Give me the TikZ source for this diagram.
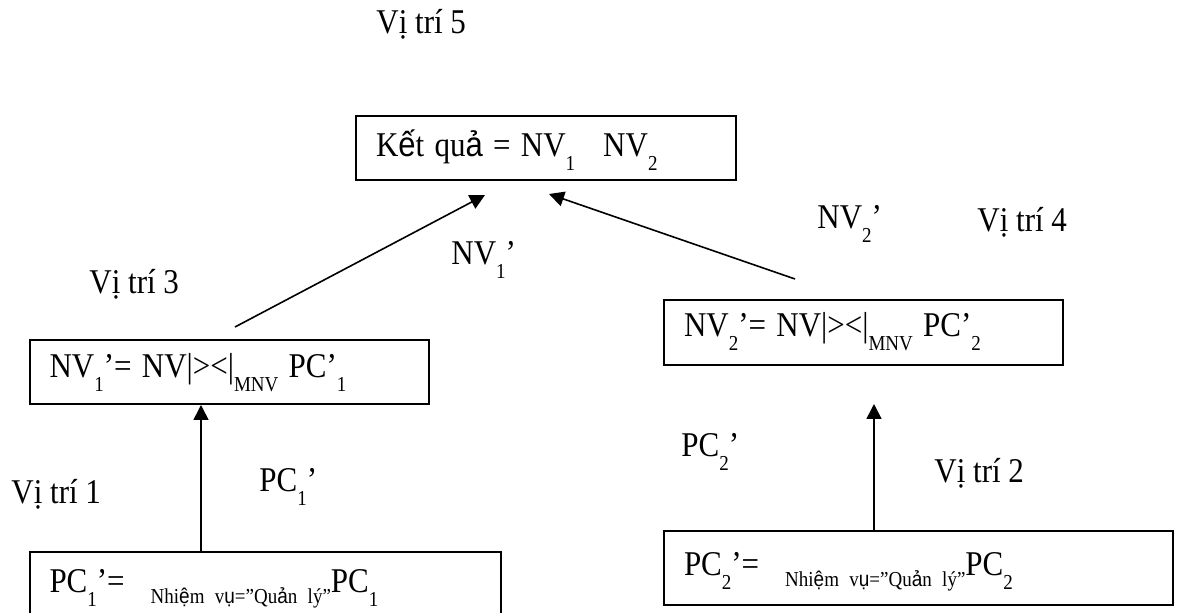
\documentclass[tikz,border=0pt]{standalone}
\usepackage{fontspec}
\setmainfont{Liberation Serif}
\newfontfamily\vnsans{Liberation Sans}
\usepackage{tikz}
\usetikzlibrary{
  arrows.meta,
  positioning
}
\newcommand{\lowidx}[1]{\raisebox{-6pt}{\fontsize{9.5}{10}\selectfont #1}}
\newcommand{\lowcond}[1]{\raisebox{-4.5pt}{\fontsize{9.5}{10}\selectfont #1}}
\newcommand{\vs}[1]{{\vnsans #1}}
\newcommand{\tall}[1]{\scalebox{1}[1.12]{#1}}
\tikzset{
    relbox/.style={draw, line width=1pt, anchor=north west, inner xsep=10pt, inner ysep=0pt, align=left, font=\fontsize{15.5}{18}\selectfont},
    lbl/.style={anchor=base west, inner sep=0pt, font=\fontsize{15.5}{18}\selectfont},
    arr/.style={line width=0.8pt, -{Triangle[length=7.5pt, width=7.5pt]}}
}

\begin{document}
\begin{tikzpicture}[x=0.5pt, y=-0.5pt]
    \useasboundingbox (0,0) rectangle (1178,613);
    \clip (0,0) rectangle (1178,613);
    \node[relbox, text width=170pt, text height=20.5pt, text depth=11.5pt] (kq) at (355,115) {\tall{K\vs{ế}t qu\vs{ả} = NV\lowidx{1}\hspace{14pt}NV\lowidx{2}}};
    \node[relbox, text width=179.5pt, text height=19pt, text depth=13pt] (nv1) at (28.5,339) {\tall{NV\lowidx{1}’= NV|><|\lowidx{MNV} PC’\lowidx{1}}};
    \node[relbox, text width=179.5pt, text height=18.5pt, text depth=14pt] (nv2) at (663,299) {\tall{NV\lowidx{2}’= NV|><|\lowidx{MNV} PC’\lowidx{2}}};
    \node[relbox, text width=215.75pt, text height=20.5pt, text depth=20pt] (pc1) at (28.5,551) {\tall{PC\lowidx{1}’=\hspace{13pt}\lowcond{Nhi\vs{ệ}m v\vs{ụ}=”Qu\vs{ả}n lý”}PC\lowidx{1}}};
    \node[relbox, text width=234.5pt, text height=22.5pt, text depth=14.5pt] (pc2) at (663,530) {\tall{PC\lowidx{2}’=\hspace{13pt}\lowcond{Nhi\vs{ệ}m v\vs{ụ}=”Qu\vs{ả}n lý”}PC\lowidx{2}}};

    \node[lbl] (vt5) at (376,34) {\tall{Vị trí 5}};
    \node[lbl] (vt4) at (977,232) {\tall{Vị trí 4}};
    \node[lbl] (vt3) at (89,294) {\tall{Vị trí 3}};
    \node[lbl] (vt2) at (934,483) {\tall{Vị trí 2}};
    \node[lbl] (vt1) at (11,504) {\tall{Vị trí 1}};
    \node[lbl] (lnv1) at (451,265) {\tall{NV\lowidx{1}’}};
    \node[lbl] (lnv2) at (817,229) {\tall{NV\lowidx{2}’}};
    \node[lbl] (lpc1) at (259,492) {\tall{PC\lowidx{1}’}};
    \node[lbl] (lpc2) at (681,457) {\tall{PC\lowidx{2}’}};

    \coordinate (s3) at (235,327);
    \coordinate (e3) at (485,195);
    \coordinate (s4) at (795,279);
    \coordinate (e4) at (549,194);
    \coordinate (c1) at (201,0);
    \coordinate (c2) at (874,404);

    \draw[arr] (s3) -- (e3);
    \draw[arr] (s4) -- (e4);
    \draw[arr] (pc1.north -| c1) -- (nv1.south -| c1);
    \draw[arr] (pc2.north -| c2) -- (c2);
\end{tikzpicture}
\end{document}
